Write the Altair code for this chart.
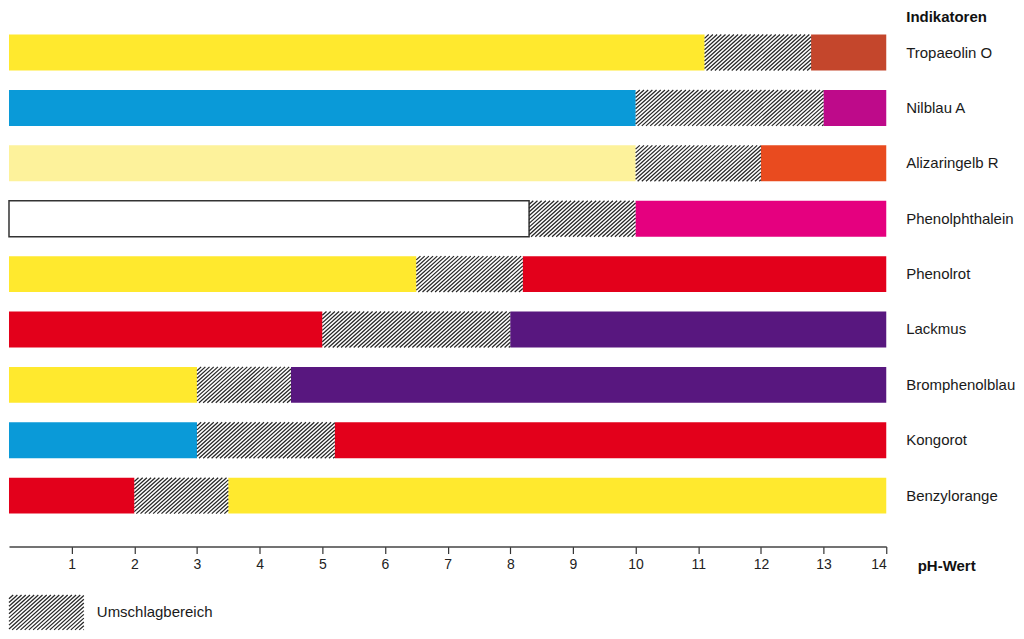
import altair as alt
import pandas as pd
import numpy as np

# ---- data ----
indicators = ["Tropaeolin O", "Nilblau A", "Alizaringelb R", "Phenolphthalein",
              "Phenolrot", "Lackmus", "Bromphenolblau", "Kongorot", "Benzylorange"]
trans_start = [11.1, 10.0, 10.0, 8.3, 6.5, 5.0, 3.0, 3.0, 2.0]
trans_end = [12.8, 13.0, 12.0, 10.0, 8.2, 8.0, 4.5, 5.2, 3.5]
acid_colors = ["#FFE92E", "#0A9AD8", "#FDF29B", "#FFFFFF", "#FFE92E",
               "#E3001B", "#FFE92E", "#0A9AD8", "#E3001B"]
base_colors = ["#C4462C", "#BE0A8A", "#E94B1F", "#E5007F", "#E3001B",
               "#58177F", "#58177F", "#E3001B", "#FFE92E"]
ph_min, ph_max = 0, 14
tick_values = list(range(1, 15))
legend_label = "Umschlagbereich"
header = "Indikatoren"
axis_title = "pH-Wert"

# ---- layout ----
W, H = 879, 539
PX_X = W / (ph_max - ph_min)
ROW_PX = 55.5
Y_MIN = -44 / ROW_PX
Y_MAX = Y_MIN + H / ROW_PX
HALF = 18 / ROW_PX
ANGLE = 42
SPACING_PX = 4.2
FONT = "Liberation Sans"

rows = list(range(len(indicators)))

seg = []
for i, name in enumerate(indicators):
    white = acid_colors[i].upper() == "#FFFFFF"
    seg.append(dict(name=name, x0=ph_min, x1=trans_start[i], r0=i - HALF, r1=i + HALF,
                    fill=acid_colors[i], stroke="#333333" if white else acid_colors[i],
                    sw=1.5 if white else 0))
    seg.append(dict(name=name, x0=trans_end[i], x1=ph_max, r0=i - HALF, r1=i + HALF,
                    fill=base_colors[i], stroke=base_colors[i], sw=0))
seg_df = pd.DataFrame(seg)


def hatch(s, e, r, h):
    height_px = 2 * h * ROW_PX
    run = height_px / np.tan(np.radians(ANGLE)) / PX_X
    step = SPACING_PX / PX_X
    out = []
    for b in np.arange(s - run, e, step):
        t0 = max(0.0, (s - b) / run)
        t1 = min(1.0, (e - b) / run)
        if t1 - t0 > 1e-6:
            out.append(dict(x0=b + run * t0, r0=r + h - 2 * h * t0,
                            x1=b + run * t1, r1=r + h - 2 * h * t1))
    return out


lines = []
for i in rows:
    lines += hatch(trans_start[i], trans_end[i], i, HALF)
# legend patch
LEG_R = (613 - 52) / ROW_PX
LEG_H = 17.5 / ROW_PX
LEG_X1 = 75 / PX_X
lines += hatch(0, LEG_X1, LEG_R, LEG_H)
lines_df = pd.DataFrame(lines)

label_df = pd.DataFrame(dict(name=indicators, r=rows, x=[ph_max] * len(rows)))
header_df = pd.DataFrame(dict(name=[header], r=[(16 - 52) / ROW_PX], x=[ph_max]))
legend_df = pd.DataFrame(dict(name=[legend_label], r=[LEG_R], x=[LEG_X1]))

xscale = alt.Scale(domain=[ph_min, ph_max], nice=False, zero=False)
yscale = alt.Scale(domain=[Y_MIN, Y_MAX], nice=False, zero=False, reverse=True)
xaxis = alt.Axis(values=tick_values, grid=False, tickSize=7, tickColor="#333333",
                 tickWidth=1.2, domainColor="#444444", domainWidth=1.5,
                 labelFont=FONT, labelFontSize=14, labelColor="#222222", labelPadding=4,
                 title=axis_title, titleFont=FONT, titleFontSize=15, titleFontWeight="bold",
                 titleColor="#111111", titleAnchor="end", titleAlign="left",
                 titleBaseline="middle", titleX=W + 31, titleY=19)

X = lambda f: alt.X(f, type="quantitative", scale=xscale, axis=xaxis)
Y = lambda f: alt.Y(f, type="quantitative", scale=yscale, axis=None)

bars = alt.Chart(seg_df).mark_rect().encode(
    x=X("x0"), x2="x1", y=Y("r0"), y2="r1",
    fill=alt.Fill("fill:N", scale=None),
    stroke=alt.Stroke("stroke:N", scale=None),
    strokeWidth=alt.StrokeWidth("sw:Q", scale=None),
)

hatch_layer = alt.Chart(lines_df).mark_rule(color="#262626", strokeWidth=1.25).encode(
    x=X("x0"), x2="x1", y=Y("r0"), y2="r1"
)

labels = alt.Chart(label_df).mark_text(
    align="left", baseline="middle", dx=20, font=FONT, fontSize=15, color="#1a1a1a"
).encode(x=X("x"), y=Y("r"), text="name:N")

head = alt.Chart(header_df).mark_text(
    align="left", baseline="middle", dx=20, font=FONT, fontSize=15, fontWeight="bold",
    color="#111111"
).encode(x=X("x"), y=Y("r"), text="name:N")

leg = alt.Chart(legend_df).mark_text(
    align="left", baseline="middle", dx=13, font=FONT, fontSize=15, color="#1a1a1a"
).encode(x=X("x"), y=Y("r"), text="name:N")

chart = alt.layer(bars, hatch_layer, labels, head, leg).properties(
    width=W, height=H, padding={"left": 0, "top": 0, "right": 0, "bottom": 0}
).configure_view(stroke=None)

chart.save("out.html", embed_options={"renderer": "svg", "actions": False})
